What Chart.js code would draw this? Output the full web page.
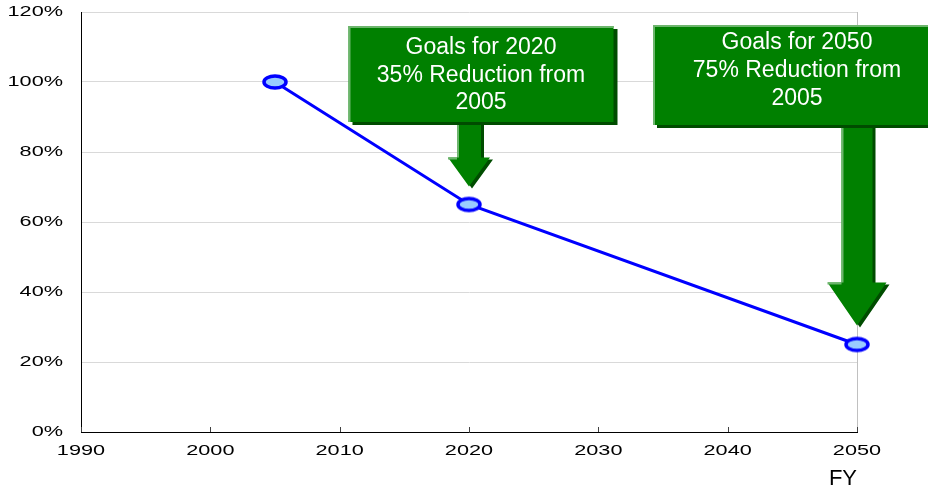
<!DOCTYPE html>
<html><head><meta charset="utf-8">
<script src="https://cdn.jsdelivr.net/npm/chart.js@4/dist/chart.umd.min.js"></script>
<style>html,body{margin:0;padding:0;background:#fff;overflow:hidden}canvas{display:block}</style>
</head><body>
<canvas id="c" width="928" height="488"></canvas>
<script>
// ---- data ----
const years = [2005, 2020, 2050];
const values = [100, 65, 25];
const xTicks = [1990, 2000, 2010, 2020, 2030, 2040, 2050];
const yTicks = [0, 20, 40, 60, 80, 100, 120];
const xTitle = 'FY';
const goal2020Lines = ['Goals for 2020', '35% Reduction from', '2005'];
const goal2050Lines = ['Goals for 2050', '75% Reduction from', '2005'];

// ---- annotation layout (styling, not data) ----
const goals = [
  {idx: 1, lines: goal2020Lines, boxDx: 12, boxW: 265, boxTop: 26, boxH: 96, textTop: 22, lineGap: 27.5,
   shaftW: 24, headW: 42, headLen: 29, gap: 18},
  {idx: 2, lines: goal2050Lines, boxDx: -60, boxW: 288, boxTop: 25, boxH: 100, textTop: 18, lineGap: 28,
   shaftW: 31, headW: 59, headLen: 43, gap: 19}
];

const GREEN = '#008000', DARK = '#004c00', LIGHT = '#6db56d';
const tickFont = {family: "'Liberation Sans', Arial, sans-serif", size: 14};
const LABEL_STRETCH = 1.55;

function makeEllipse() {
  const c = document.createElement('canvas');
  c.width = 28; c.height = 18;
  const g = c.getContext('2d');
  g.beginPath();
  g.ellipse(14, 9, 11, 6, 0, 0, Math.PI * 2);
  g.fillStyle = '#99ccff'; g.fill();
  g.lineWidth = 3.5; g.strokeStyle = '#0000ff'; g.stroke();
  return c;
}

// draws the axis tick labels horizontally widened, like the reference
const stretchPlugin = {
  id: 'stretch',
  beforeDraw(chart) {
    Object.values(chart.scales).forEach(s => {
      if (!s.__patched) {
        const orig = s.drawLabels.bind(s);
        s.drawLabels = function (ca) {
          const ctx = this.ctx;
          const of = CanvasRenderingContext2D.prototype.fillText;
          ctx.fillText = function (t, x, y, mw) {
            this.save(); this.translate(x, y); this.scale(LABEL_STRETCH, 1);
            of.call(this, t, 0, 0, mw);
            this.restore();
          };
          orig(ca);
          delete ctx.fillText;
        };
        s.__patched = true;
      }
    });
  }
};

const innerTicks = {
  id: 'innerTicks',
  afterDraw(chart) {
    const ctx = chart.ctx, xs = chart.scales.x, b = chart.chartArea.bottom;
    ctx.save();
    ctx.strokeStyle = '#404040'; ctx.lineWidth = 1;
    xs.ticks.forEach(t => {
      const px = Math.round(xs.getPixelForValue(t.value)) + 0.5;
      ctx.beginPath(); ctx.moveTo(px, b); ctx.lineTo(px, b - 5); ctx.stroke();
    });
    ctx.restore();
  }
};

function poly(ctx, pts, dx, dy, color) {
  ctx.beginPath();
  pts.forEach((p, i) => i ? ctx.lineTo(p[0] + dx, p[1] + dy) : ctx.moveTo(p[0] + dx, p[1] + dy));
  ctx.closePath();
  ctx.fillStyle = color; ctx.fill();
}

const goalPlugin = {
  id: 'goals',
  afterDatasetsDraw(chart) {
    const ctx = chart.ctx, xs = chart.scales.x, ys = chart.scales.y;
    ctx.save();
    goals.forEach(g => {
      const px = xs.getPixelForValue(years[g.idx]);
      const py = ys.getPixelForValue(values[g.idx]);
      const tipY = py - g.gap, headTop = tipY - g.headLen;
      const shaftTop = g.boxTop + g.boxH - 2;
      const sw = g.shaftW / 2, hw = g.headW / 2;
      const pts = [[px - sw, shaftTop], [px + sw, shaftTop], [px + sw, headTop], [px + hw, headTop],
                   [px, tipY], [px - hw, headTop], [px - sw, headTop]];
      poly(ctx, pts, 3, 2, DARK);
      poly(ctx, pts, 0, 0, GREEN);
      ctx.fillStyle = LIGHT;
      ctx.fillRect(px - sw, shaftTop, 2, headTop - shaftTop);
      ctx.fillRect(px - hw, headTop, hw - sw, 2);

      const cx = px + g.boxDx, bx = cx - g.boxW / 2;
      ctx.fillStyle = DARK;
      ctx.fillRect(bx + 4, g.boxTop + 3, g.boxW, g.boxH);
      ctx.fillStyle = GREEN;
      ctx.fillRect(bx, g.boxTop, g.boxW, g.boxH);
      ctx.fillStyle = LIGHT;
      ctx.fillRect(bx, g.boxTop, g.boxW, 2);
      ctx.fillRect(bx, g.boxTop, 2, g.boxH);

      ctx.fillStyle = '#ffffff';
      ctx.font = "23px 'Liberation Sans', Arial, sans-serif";
      ctx.textAlign = 'center'; ctx.textBaseline = 'middle';
      g.lines.forEach((t, i) => ctx.fillText(t, cx, g.boxTop + g.textTop + i * g.lineGap));
    });
    ctx.restore();
  }
};

new Chart(document.getElementById('c'), {
  type: 'line',
  data: {
    datasets: [{
      data: years.map((y, i) => ({x: y, y: values[i]})),
      borderColor: '#0000ff', borderWidth: 3,
      pointStyle: makeEllipse(), pointRadius: 10,
      tension: 0, clip: false, fill: false
    }]
  },
  options: {
    responsive: false, animation: false, events: [],
    layout: {autoPadding: false, padding: {left: 0, right: 71, top: 12, bottom: 0}},
    plugins: {legend: {display: false}, tooltip: {enabled: false}},
    scales: {
      x: {
        type: 'linear', min: 1990, max: 2050,
        afterBuildTicks: s => { s.ticks = xTicks.map(v => ({value: v})); },
        ticks: {font: tickFont, color: '#000', padding: 11, maxRotation: 0, autoSkip: false,
                callback: v => String(v)},
        grid: {drawTicks: false, lineWidth: 1,
               color: c => (c.tick && c.tick.value === 2050) ? '#c0c0c0' : 'rgba(0,0,0,0)'},
        border: {color: '#000', width: 1},
        title: {display: true, text: xTitle, align: 'end', color: '#000',
                font: {family: "'Liberation Sans Narrow', 'Liberation Sans', Arial, sans-serif", size: 22, lineHeight: 1},
                padding: {top: 0, bottom: -2}},
        afterFit: s => { s.height = 56; }
      },
      y: {
        min: 0, max: 120,
        afterBuildTicks: s => { s.ticks = yTicks.map(v => ({value: v})); },
        ticks: {font: tickFont, color: '#000', padding: 18, callback: v => v + '%'},
        grid: {drawTicks: false, color: '#d9d9d9'},
        border: {color: '#000', width: 1},
        afterFit: s => { s.width = 81; s.paddingTop = 0; s.paddingBottom = 0; }
      }
    }
  },
  plugins: [stretchPlugin, innerTicks, goalPlugin]
});
</script>
</body></html>
